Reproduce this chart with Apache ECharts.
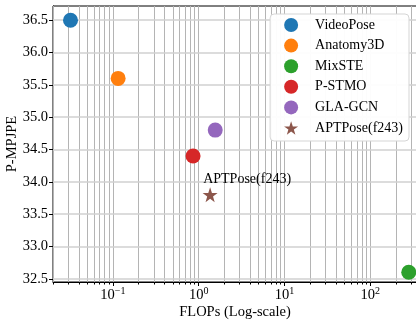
<!DOCTYPE html>
<html>
<head>
<meta charset="utf-8">
<script src="https://cdn.jsdelivr.net/npm/echarts@6/dist/echarts.min.js"></script>
<style>html,body{margin:0;padding:0;background:#fff}#c{width:416px;height:321px}</style>
</head>
<body>
<div id="c"></div>
<script>
// ---- data ----
var names = ['VideoPose', 'Anatomy3D', 'MixSTE', 'P-STMO', 'GLA-GCN', 'APTPose(f243)'];
var flops = [0.032, 0.115, 282, 0.86, 1.56, 1.36];
var mpjpe = [36.5, 35.6, 32.6, 34.4, 34.8, 33.8];
var colors = ['#1f77b4', '#ff7f0e', '#2ca02c', '#d62728', '#9467bd', '#8c564b'];
var xMajorTicks = [0.1, 1, 10, 100];
var xMinorTicks = [0.02,0.03,0.04,0.05,0.06,0.07,0.08,0.09,0.2,0.3,0.4,0.5,0.6,0.7,0.8,0.9,2,3,4,5,6,7,8,9,20,30,40,50,60,70,80,90,200,300];
var yTicks = [32.5, 33.0, 33.5, 34.0, 34.5, 35.0, 35.5, 36.0, 36.5];
var xMin = 0.02, xMax = 352, yMin = 32.45, yMax = 36.72;

var FONT = 'Liberation Serif';
var STAR = 'path://M50,0 L61.8,35.1 L98.1,35.1 L68.7,56.8 L79.4,91.9 L50,70 L20.6,91.9 L31.3,56.8 L1.9,35.1 L38.2,35.1 Z';

var series = [];
// grid lines
var gridLines = [];
xMajorTicks.concat(xMinorTicks).forEach(function (v) { gridLines.push({ xAxis: v }); });
var hLines = yTicks.map(function (v) { return { yAxis: v }; });
series.push({
  type: 'line', data: [], z: 0, silent: true,
  markLine: { silent: true, symbol: 'none', label: { show: false }, animation: false,
    lineStyle: { color: '#b4b4b4', width: 1, type: 'solid' }, data: gridLines }
});
series.push({
  type: 'line', data: [], z: 0, silent: true,
  markLine: { silent: true, symbol: 'none', label: { show: false }, animation: false,
    lineStyle: { color: '#d0d0d0', width: 1.5, type: 'solid' }, data: hLines }
});
names.forEach(function (n, i) {
  var isStar = i === 5;
  series.push({
    name: n, type: 'scatter', z: 5,
    symbol: isStar ? STAR : 'circle',
    symbolSize: 15,
    itemStyle: { color: colors[i], opacity: 1 },
    data: [[flops[i], mpjpe[i]]],
    label: isStar ? { show: true, formatter: n, position: 'top', offset: [37, 1], distance: 2,
      color: '#000', fontFamily: FONT, fontSize: 14 } : { show: false }
  });
});

var supLabel = function (v) {
  var e = Math.round(Math.log10(v));
  return '{b|10}{s|' + (e < 0 ? '\u2212' + (-e) : e) + '}';
};
var labelRich = { b: { fontFamily: FONT, fontSize: 14.5, color: '#000' },
                  s: { fontFamily: FONT, fontSize: 10, color: '#000', padding: [0, 0, 9, 0] } };

var option = {
  animation: false,
  grid: { left: 53, right: -1, top: 6, bottom: 39, outerBoundsMode: 'none', containLabel: false,
    show: true, borderColor: '#000', borderWidth: 1, backgroundColor: 'transparent' },
  legend: {
    data: names, orient: 'vertical', right: 7, top: 14, z: 10,
    itemWidth: 14, itemHeight: 14, itemGap: 6.6,
    padding: [4, 6, 6, 14],
    backgroundColor: 'rgba(255,255,255,0.96)', borderColor: '#d5d5d5', borderWidth: 1, borderRadius: 4,
    textStyle: { fontFamily: FONT, fontSize: 14, color: '#000', padding: [0, 0, 0, 12] }
  },
  xAxis: [{
    type: 'log', logBase: 10, min: xMin, max: xMax,
    name: 'FLOPs (Log-scale)', nameLocation: 'middle', nameGap: 23, nameMoveOverlap: false,
    nameTextStyle: { fontFamily: FONT, fontSize: 14.5, color: '#000' },
    axisLine: { show: true, lineStyle: { color: '#000', width: 1 } },
    axisTick: { show: true, inside: false, length: 4, customValues: xMajorTicks, lineStyle: { color: '#000' } },
    axisLabel: { show: true, customValues: xMajorTicks, formatter: supLabel, rich: labelRich, margin: 4 },
    splitLine: { show: false }, minorTick: { show: false }, minorSplitLine: { show: false }
  }, {
    type: 'log', logBase: 10, min: xMin, max: xMax, position: 'bottom',
    axisLine: { show: false },
    axisTick: { show: true, length: 2.5, customValues: xMinorTicks, lineStyle: { color: '#000' } },
    axisLabel: { show: false }, splitLine: { show: false }
  }],
  yAxis: {
    type: 'value', min: yMin, max: yMax,
    name: 'P-MPJPE', nameLocation: 'middle', nameGap: 41, nameRotate: 90, nameMoveOverlap: false,
    nameTextStyle: { fontFamily: FONT, fontSize: 14.5, color: '#000', verticalAlign: 'middle' },
    axisLine: { show: true, lineStyle: { color: '#000', width: 1 } },
    axisTick: { show: true, length: 4, customValues: yTicks, lineStyle: { color: '#000' } },
    axisLabel: { show: true, customValues: yTicks, formatter: function (v) { return v.toFixed(1); },
      fontFamily: FONT, fontSize: 14.5, color: '#000', margin: 5 },
    splitLine: { show: false }
  },
  series: series
};
var chart = echarts.init(document.getElementById('c'));
chart.setOption(option);
</script>
</body>
</html>
